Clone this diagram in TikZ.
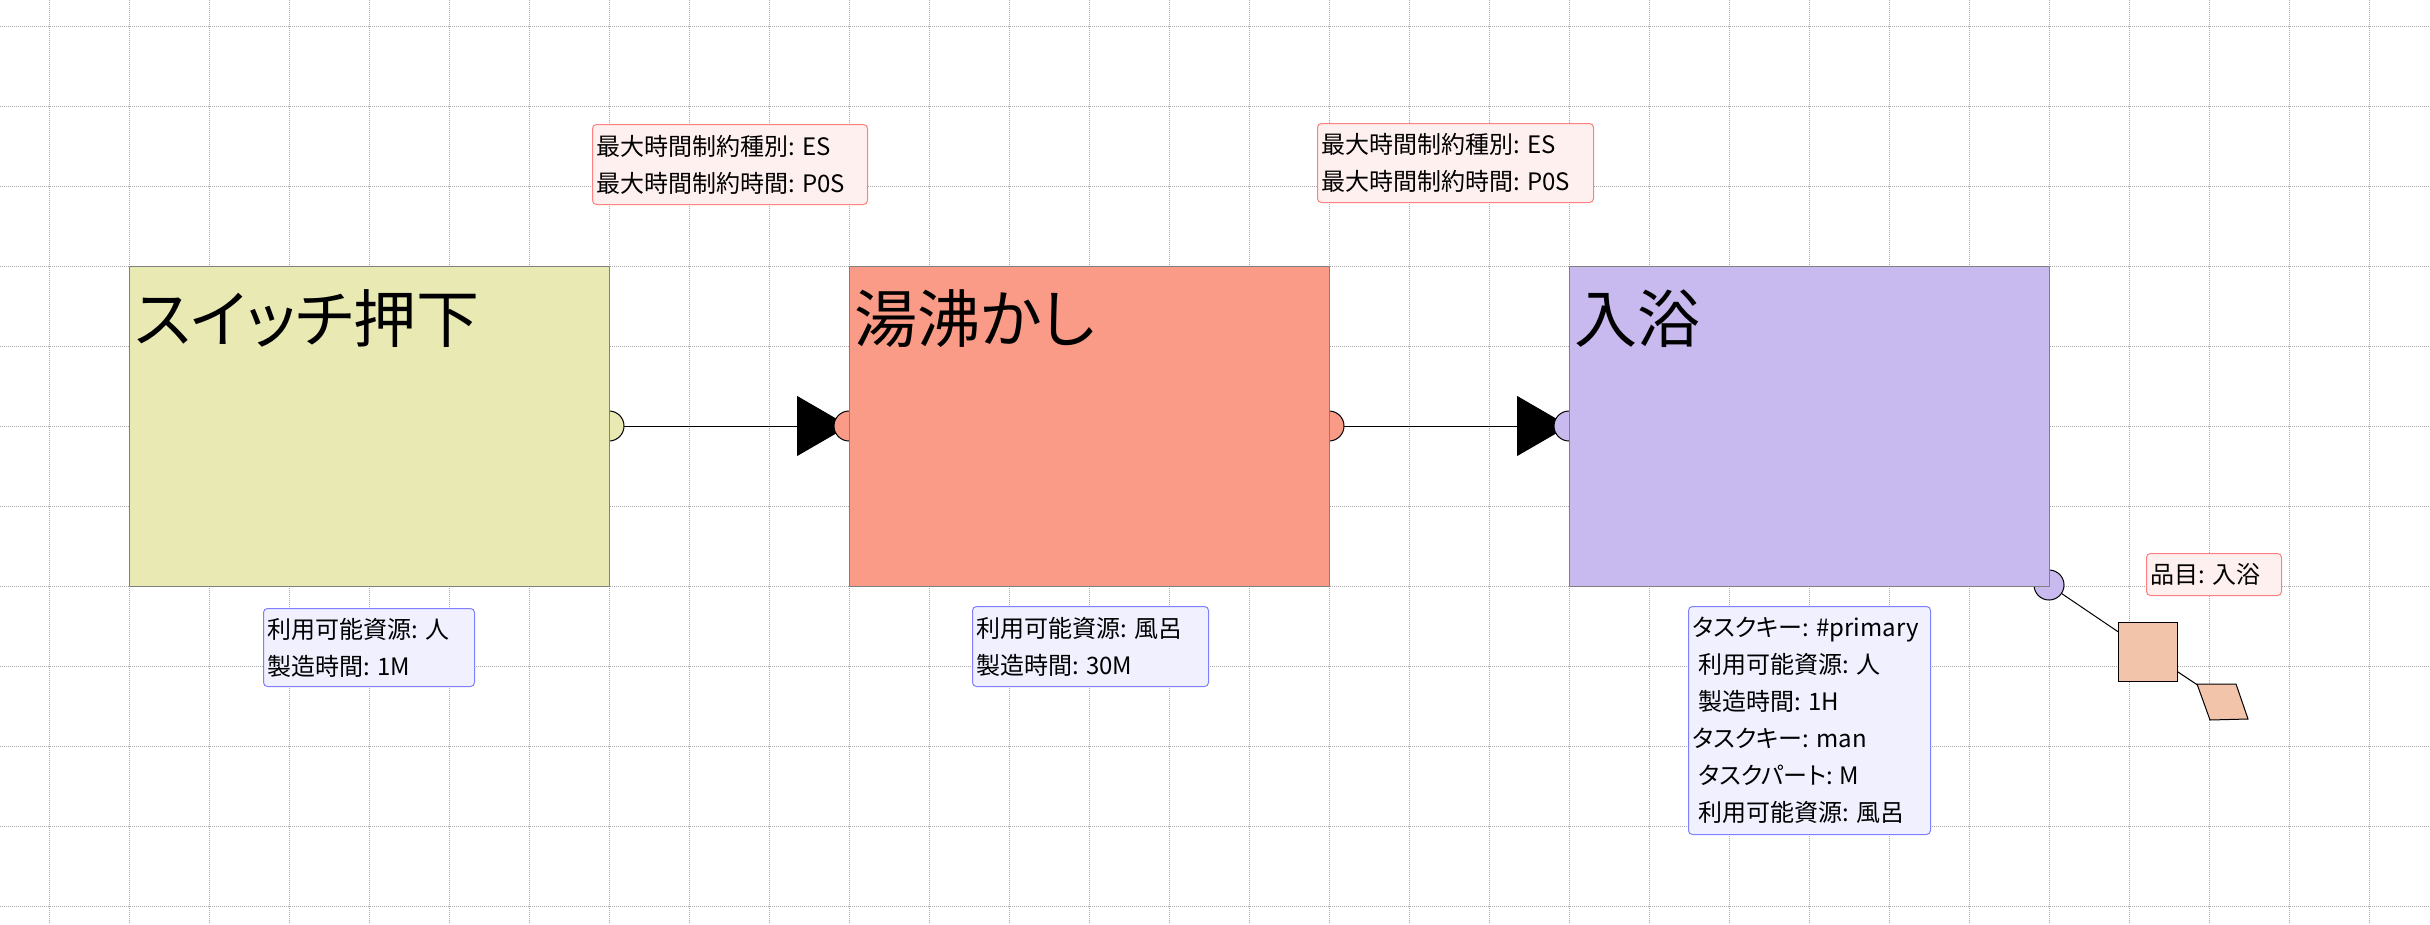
\documentclass[tikz,border=0pt]{standalone}
\usepackage{fontspec}
\setmainfont{Noto Sans CJK JP}[RawFeature={+palt}]
\usetikzlibrary{arrows.meta}
\pgfdeclarelayer{background}
\pgfsetlayers{background,main}
\newcommand{\colsep}{:\hspace{7pt}}
\definecolor{gridc}{HTML}{A8A8A8}
\definecolor{yelc}{HTML}{E9E9B4}
\definecolor{salc}{HTML}{F99B87}
\definecolor{lavc}{HTML}{C8B9EE}
\definecolor{sqc}{HTML}{F2C4AA}
\definecolor{pinkfill}{HTML}{FFF0F0}
\definecolor{pinkline}{HTML}{FF8080}
\definecolor{bluefill}{HTML}{F0F0FF}
\definecolor{blueline}{HTML}{8080FF}
\definecolor{boxline}{HTML}{808080}
\begin{document}
\begin{tikzpicture}[x=1pt,y=-1pt,
  gridline/.style={draw=gridc, line width=1pt, dash pattern=on 1pt off 1pt},
  task/.style={draw=boxline, line width=1pt, minimum width=480pt, minimum height=320pt, inner sep=0pt, outer sep=0pt},
  port/.style={circle, draw=black, line width=1pt, minimum size=30pt, inner sep=0pt, outer sep=0pt},
  title/.style={font=\fontsize{63}{63}\selectfont, inner sep=0pt, anchor=base west},
  note/.style={rounded corners=4pt, line width=1pt, inner xsep=4pt, inner ysep=0pt, align=left, anchor=north west, font=\fontsize{24}{37}\selectfont},
  pinknote/.style={note, draw=pinkline, fill=pinkfill},
  bluenote/.style={note, draw=blueline, fill=bluefill},
  conn/.style={draw=black, line width=1pt},
  flow/.style={conn, -{Triangle[length=52pt,width=60pt]}}
]
\useasboundingbox (0,0) rectangle (2430,924);

% ports (drawn before boxes so that the boxes cover their inner halves)
\node[port, fill=yelc] (o1) at (609,426) {};
\node[port, fill=salc] (i2) at (849,426) {};
\node[port, fill=salc] (o2) at (1329,426) {};
\node[port, fill=lavc] (i3) at (1569,426) {};
\node[port, fill=lavc] (o3) at (2049,585) {};

% task boxes
\node[task, fill=yelc] (b1) at (369,426) {};
\node[task, fill=salc] (b2) at (1089,426) {};
\node[task, fill=lavc] (b3) at (1809,426) {};
\node[title] (t1) at (134,342) {スイッチ押下};
\node[title] (t2) at (854,342) {湯沸かし};
\node[title] (t3) at (1574,342) {入浴};

% constraint notes
\node[pinknote, text width=267pt, minimum height=80pt] (c1) at (592,124) {最大時間制約種別\colsep ES\\最大時間制約時間\colsep P0S};
\node[pinknote, text width=268pt, minimum height=79pt] (c2) at (1317,123) {最大時間制約種別\colsep ES\\最大時間制約時間\colsep P0S};

% resource notes
\node[bluenote, text width=203pt, minimum height=78pt] (r1) at (263,608) {利用可能資源\colsep 人\\製造時間\colsep 1M};
\node[bluenote, text width=228pt, minimum height=80pt] (r2) at (972,606) {利用可能資源\colsep 風呂\\製造時間\colsep 30M};
\node[bluenote, text width=234pt, minimum height=228pt] (r3) at (1688,606) {タスクキー\colsep \#primary\\\hspace*{6pt}利用可能資源\colsep 人\\\hspace*{6pt}製造時間\colsep 1H\\タスクキー\colsep man\\\hspace*{6pt}タスクパート\colsep M\\\hspace*{6pt}利用可能資源\colsep 風呂};

% item
\node[draw=black, line width=1pt, fill=sqc, minimum size=59pt, inner sep=0pt, outer sep=0pt] (sq) at (2147.7,651.8) {};
\coordinate (pc) at (2223,702);
\draw[line width=1pt, fill=sqc] (2197,684) -- (2236,684) -- (2248,719) -- (2210,720) -- cycle;
\node[pinknote, text width=127pt, minimum height=42pt] (item) at (2146,553) {品目\colsep 入浴};

\begin{pgfonlayer}{background}
  \fill[white] (0,0) rectangle (2430,924);
  \foreach \gx in {49,129,...,2369} { \draw[gridline] (\gx,0) -- (\gx,924); }
  \foreach \gy in {26,106,...,906} { \draw[gridline] (0,\gy) -- (2430,\gy); }
  \draw[flow] (o1.center) -- (i2.center);
  \draw[flow] (o2.center) -- (i3.center);
  \draw[conn] (o3.center) -- (sq.center);
  \draw[conn] (sq.center) -- (pc);
\end{pgfonlayer}
\end{tikzpicture}
\end{document}
